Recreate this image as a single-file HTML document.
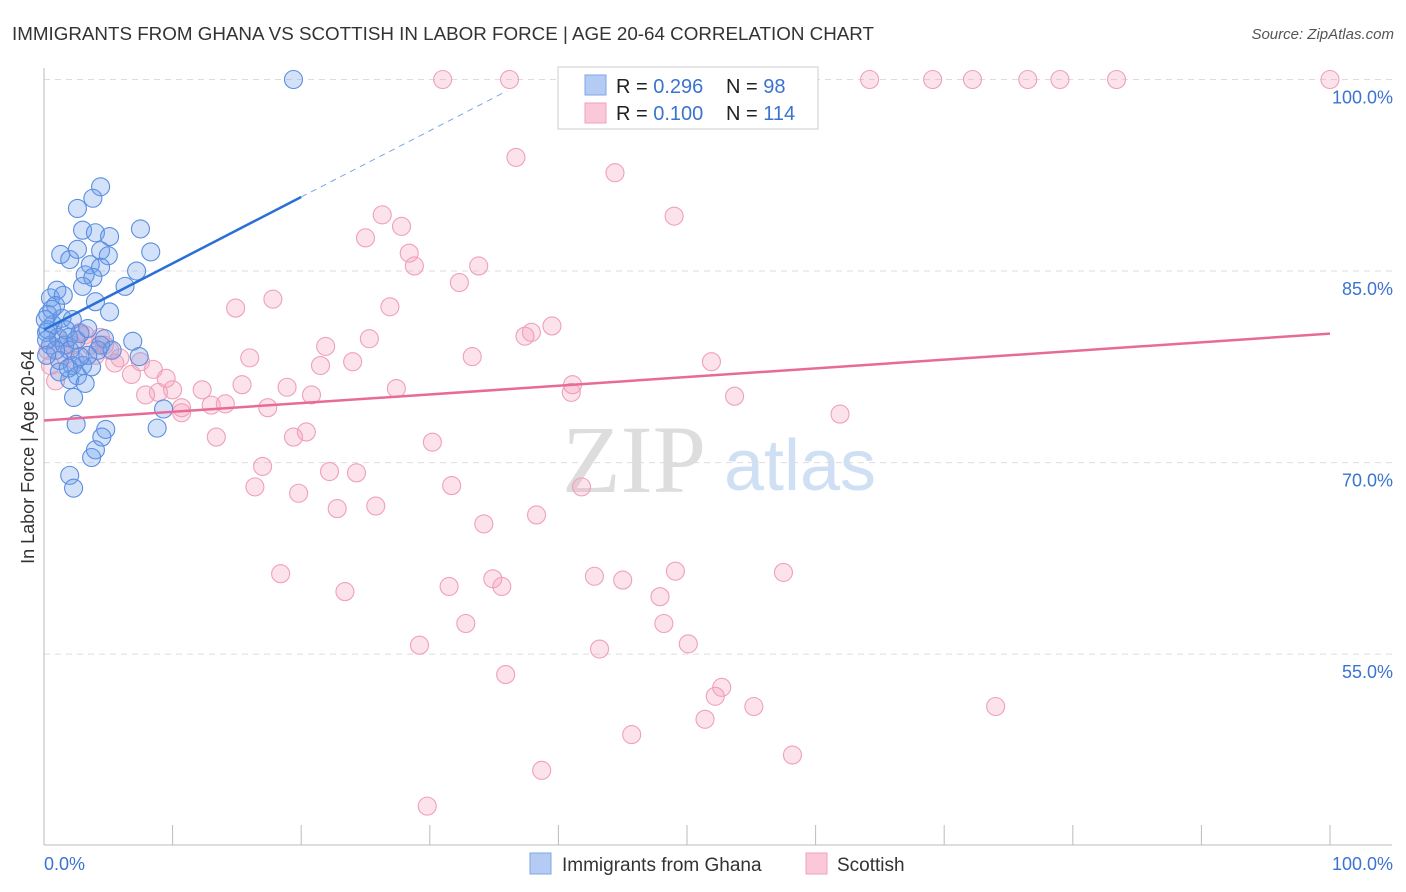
<!DOCTYPE html>
<html><head><meta charset="utf-8">
<style>
body{margin:0;background:#fff;font-family:"Liberation Sans",sans-serif;}
#wrap{position:relative;width:1406px;height:892px;overflow:hidden;}
</style></head>
<body>
<div id="wrap">
<svg id="chart" width="1406" height="892" xmlns="http://www.w3.org/2000/svg">
<text x="12" y="40" font-size="18.8" fill="#333">IMMIGRANTS FROM GHANA VS SCOTTISH IN LABOR FORCE | AGE 20-64 CORRELATION CHART</text>
<text x="1394" y="39" font-size="15" fill="#555" font-style="italic" text-anchor="end">Source: ZipAtlas.com</text>
<text x="634" y="492" font-size="96" fill="#ddd" font-family="Liberation Serif, serif" text-anchor="middle">ZIP</text>
<text x="800" y="490" font-size="72" fill="#cfe0f5" text-anchor="middle">atlas</text>
<g id="grid"></g>
<g id="axes"></g>
<g id="pts"></g>
<g id="trend"></g>
<text transform="translate(34,457) rotate(-90)" font-size="18" fill="#333" text-anchor="middle">In Labor Force | Age 20-64</text>
<g>
<rect x="558" y="67" width="260" height="62" fill="#fff" stroke="#ccc"/>
<rect x="585" y="75" width="21" height="20" fill="#b4ccf4" stroke="#7ea4e4"/>
<rect x="585" y="103" width="21" height="20" fill="#fac8d8" stroke="#f0a0b8"/>
<text x="616" y="93" font-size="20" fill="#222">R = <tspan fill="#3a73d0">0.296</tspan></text>
<text x="726" y="93" font-size="20" fill="#222">N = <tspan fill="#3a73d0"> 98</tspan></text>
<text x="616" y="120" font-size="20" fill="#222">R = <tspan fill="#3a73d0">0.100</tspan></text>
<text x="726" y="120" font-size="20" fill="#222">N = <tspan fill="#3a73d0">114</tspan></text>
</g>
<g>
<rect x="530" y="853" width="21" height="21" fill="#b4ccf4" stroke="#7ea4e4"/>
<text x="562" y="871" font-size="19" fill="#333">Immigrants from Ghana</text>
<rect x="806" y="853" width="21" height="21" fill="#fac8d8" stroke="#f0a0b8"/>
<text x="837" y="871" font-size="19" fill="#333">Scottish</text>
</g>
</svg>
</div>
<script>
const yTicks=[100,85,70,55];
const yTickLabels=["100.0%","85.0%","70.0%","55.0%"];
const xTicks=[0,10,20,30,40,50,60,70,80,90,100];
const ghanaX=[19.4,4.4,3.8,2.6,7.5,3.0,4.0,5.1,1.3,2.0,2.6,4.4,5.0,8.3,3.6,4.4,3.2,7.2,3.8,3.0,6.3,4.0,5.1,1.0,0.5,1.5,0.9,0.3,1.4,2.2,0.7,0.2,1.1,1.9,0.5,1.6,2.8,3.4,4.7,6.9,7.4,4.2,2.0,1.2,2.2,3.0,3.7,2.6,2.0,3.2,5.3,4.4,2.3,9.3,8.8,2.5,4.8,4.5,4.0,3.7,2.0,2.3,0.3,0.6,0.1,0.2,0.9,1.7,2.5,3.4,1.2,1.9,2.8,0.2];
const ghanaY=[100,91.6,90.7,89.9,88.3,88.2,88.0,87.7,86.3,85.9,86.7,86.6,86.2,86.5,85.5,85.3,84.7,85.0,84.5,83.8,83.8,82.6,81.8,83.5,82.9,83.1,82.3,81.6,81.3,81.2,80.8,80.2,79.8,79.8,79.2,79.2,80.1,80.5,79.7,79.5,78.3,78.8,78.8,78.0,77.6,77.6,77.5,76.8,76.5,76.2,78.8,79.2,75.1,74.2,72.7,73.0,72.6,72.0,71.0,70.4,69.0,68.0,80.4,82.0,81.2,79.6,78.8,80.4,79.6,78.4,77.1,77.4,78.3,78.4];
const scotX=[31.0,36.2,59.3,64.2,69.1,72.2,76.5,79.0,83.4,100,36.7,44.4,49.0,26.3,27.8,25.0,28.4,28.8,33.8,32.3,17.8,14.9,26.9,39.5,37.9,37.4,25.3,21.9,33.3,16.0,24.0,51.9,21.5,7.5,8.5,6.8,9.5,5.5,15.4,18.9,27.4,41.1,41.0,12.3,10.0,8.9,7.9,20.8,53.7,14.1,13.0,10.7,10.7,17.4,61.9,20.4,19.4,13.4,30.2,17.0,22.2,24.3,16.4,19.8,31.7,41.8,22.8,25.8,38.3,34.2,18.4,23.4,31.5,34.9,35.6,42.8,45.0,49.1,57.5,47.9,48.2,50.1,32.8,29.2,43.2,35.9,52.7,52.2,51.4,55.2,74.0,45.7,58.2,38.7,29.8,1.2,2.2,2.8,3.6,4.4,5.1,5.9,4.0,2.4,1.6,0.5,0.3,3.2,4.7,0.9];
const scotY=[100,100,100,100,100,100,100,100,100,100,93.9,92.7,89.3,89.4,88.5,87.6,86.4,85.4,85.4,84.1,82.8,82.1,82.2,80.7,80.2,79.9,79.7,79.1,78.3,78.2,77.9,77.9,77.6,77.9,77.3,76.9,76.6,77.8,76.1,75.9,75.8,76.1,75.5,75.7,75.7,75.5,75.3,75.3,75.2,74.6,74.5,74.3,73.9,74.3,73.8,72.4,72.0,72.0,71.6,69.7,69.3,69.2,68.1,67.6,68.2,68.1,66.4,66.6,65.9,65.2,61.3,59.9,60.3,60.9,60.3,61.1,60.8,61.5,61.4,59.5,57.4,55.8,57.4,55.7,55.4,53.4,52.4,51.7,49.9,50.9,50.9,48.7,47.1,45.9,43.1,79.6,79.2,80.2,79.2,79.8,78.8,78.2,78.4,78.0,78.4,77.6,78.8,80.0,79.2,76.4];
const ghanaTrend=[[0,80.4],[20,90.8],[36,99.1]];
const scotTrend=[[0,73.3],[100,80.1]];

const NS="http://www.w3.org/2000/svg";
function sx(v){return 44+v*12.86;}
function sy(v){return 79.5+(100-v)*12.77;}
function mk(tag,attrs,parent){const e=document.createElementNS(NS,tag);for(const k in attrs)e.setAttribute(k,attrs[k]);parent.appendChild(e);return e;}
const grid=document.getElementById('grid'),axes=document.getElementById('axes'),pts=document.getElementById('pts'),trend=document.getElementById('trend');
yTicks.forEach((t,i)=>{
  const l=mk('line',{x1:44,x2:1392,y1:sy(t),y2:sy(t),stroke:'#ddd','stroke-dasharray':'6,5'},grid);
  
  
  const tx=mk('text',{x:1393,y:sy(t)+24,'font-size':18,fill:'#3a73d0','text-anchor':'end'},grid);
  tx.textContent=yTickLabels[i];
  
  
});
const ya=mk('line',{x1:44,x2:44,y1:68,y2:845,stroke:'#bbb'},axes);


const xa=mk('line',{x1:44,x2:1392,y1:845,y2:845,stroke:'#bbb'},axes);


xTicks.forEach(t=>{
  const l=mk('line',{x1:sx(t),x2:sx(t),y1:825,y2:845,stroke:'#bbb'},axes);
  
  
});
const xl0=mk('text',{x:44,y:870,'font-size':18,fill:'#3a73d0'},axes);xl0.textContent='0.0%';


const xl1=mk('text',{x:1393,y:870,'font-size':18,fill:'#3a73d0','text-anchor':'end'},axes);xl1.textContent='100.0%';


scotX.forEach((x,i)=>{
  const c=mk('circle',{cx:sx(x),cy:sy(scotY[i]),r:9,fill:'rgba(245,160,190,0.3)',stroke:'#f0a0b8','stroke-width':1.1},pts);
  
  
});
ghanaX.forEach((x,i)=>{
  const c=mk('circle',{cx:sx(x),cy:sy(ghanaY[i]),r:9,fill:'rgba(110,160,235,0.3)',stroke:'#5a8ee0','stroke-width':1.1},pts);
  
  
});
const g1=mk('line',{x1:sx(ghanaTrend[0][0]),y1:sy(ghanaTrend[0][1]),x2:sx(ghanaTrend[1][0]),y2:sy(ghanaTrend[1][1]),stroke:'#2a6fd6','stroke-width':2.5},trend);


const g2=mk('line',{x1:sx(ghanaTrend[1][0]),y1:sy(ghanaTrend[1][1]),x2:sx(ghanaTrend[2][0]),y2:sy(ghanaTrend[2][1]),stroke:'#7aa6e6','stroke-width':1,'stroke-dasharray':'6,5'},trend);


const s1=mk('line',{x1:sx(scotTrend[0][0]),y1:sy(scotTrend[0][1]),x2:sx(scotTrend[1][0]),y2:sy(scotTrend[1][1]),stroke:'#e86b97','stroke-width':2.5},trend);


</script>
</body></html>
